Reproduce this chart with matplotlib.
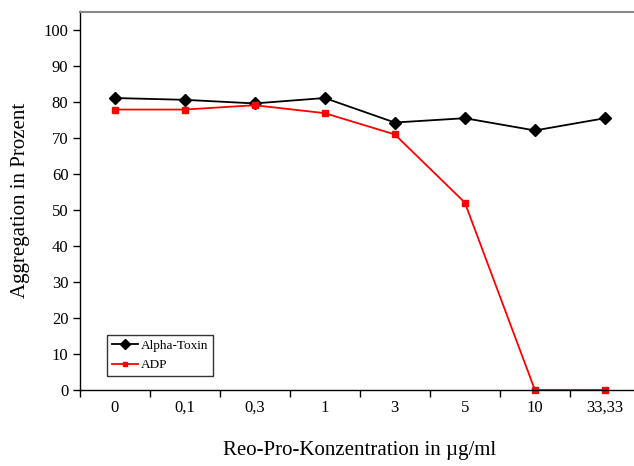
import matplotlib
matplotlib.use("Agg")
import matplotlib.pyplot as plt
import numpy as np

categories = ["0", "0,1", "0,3", "1", "3", "5", "10", "33,33"]
alpha_toxin = [81, 80.5, 79.5, 81, 74.2, 75.4, 72, 75.4]
adp = [77.8, 77.8, 79, 76.8, 70.9, 52, 0, 0]
yticks = [0, 10, 20, 30, 40, 50, 60, 70, 80, 90, 100]

plt.rcParams['font.family'] = ['Liberation Serif', 'DejaVu Serif']

fig = plt.figure(figsize=(6.34, 4.66), dpi=100)
ax = fig.add_axes([79.5/634, 76/466, (640-79.5)/634, (390-11.5)/466])

x = np.arange(len(categories))
ax.plot(x, alpha_toxin, color='black', lw=1.3, marker='D', markersize=6.5, label='Alpha-Toxin', clip_on=False)
ax.plot(x, adp, color='#ff0000', lw=1.3, marker='s', markersize=4.5, label='ADP', clip_on=False)

ax.set_xlim(-0.5, len(categories) - 0.5)
ax.set_ylim(0, 105)
ax.set_yticks(yticks)
ax.set_yticklabels([str(v) for v in yticks], fontsize=12)
ax.tick_params(axis='y', direction='out', length=5, width=1, pad=3)

ax.set_xticks(np.arange(-0.5, len(categories) + 0.5, 1))
ax.set_xticklabels([])
ax.set_xticks(x, minor=True)
ax.set_xticklabels(categories, minor=True, fontsize=12)
ax.tick_params(axis='x', which='major', direction='out', length=5, width=1)
ax.tick_params(axis='x', which='minor', length=0, pad=7)

ax.spines['right'].set_visible(False)
ax.spines['top'].set_color('#888888')
ax.spines['top'].set_linewidth(1.5)
ax.spines['left'].set_linewidth(1)
ax.spines['bottom'].set_linewidth(1)

ax.set_xlabel('Reo-Pro-Konzentration in µg/ml', fontsize=15, labelpad=18)
ax.set_ylabel('Aggregation in Prozent', fontsize=15, labelpad=10)

leg = ax.legend(loc='lower left', bbox_to_anchor=((107-79.5)/560.5, (390-376)/378.5),
                fontsize=9.5, frameon=True, fancybox=False, edgecolor='black',
                borderpad=0.35, handlelength=2.0, labelspacing=0.55, handletextpad=0.25,
                markerscale=0.75, borderaxespad=0)
leg.get_frame().set_linewidth(1)

fig.savefig('out.png', dpi=100)
